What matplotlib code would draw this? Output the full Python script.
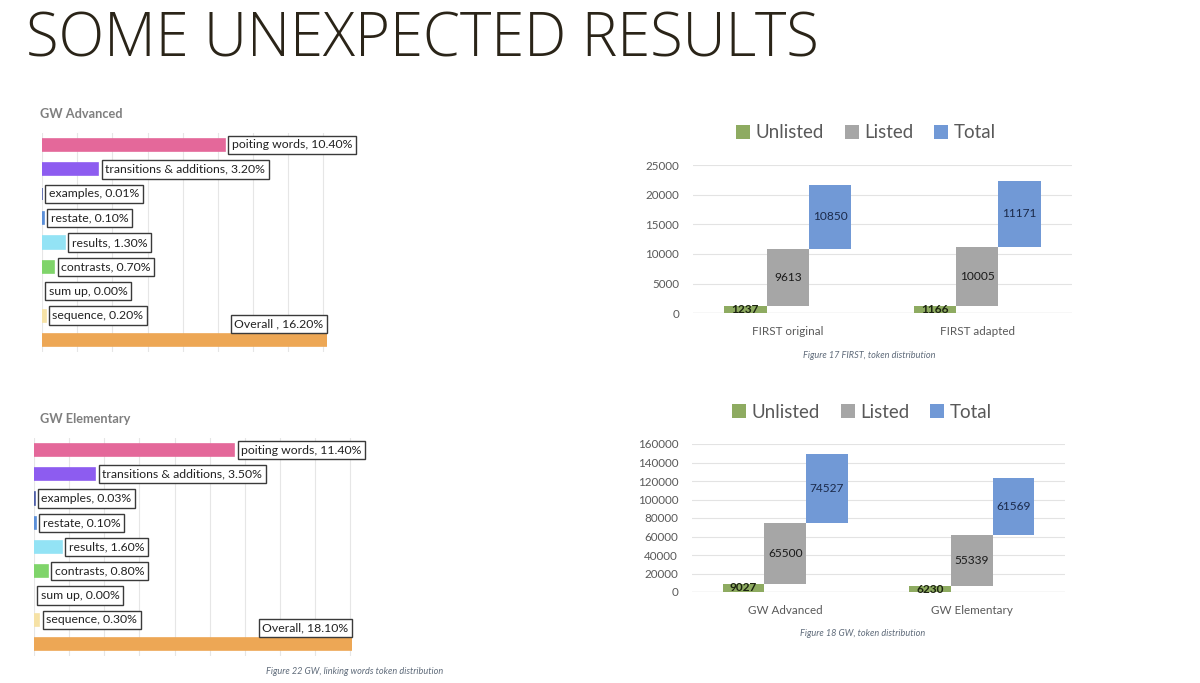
import matplotlib
matplotlib.use("Agg")
import matplotlib.pyplot as plt
import numpy as np
from matplotlib.patches import Patch

plt.rcParams['font.family'] = ['Lato', 'DejaVu Sans']

W, H = 1200, 683

# ---------------- data ----------------
lw_categories = ["poiting words", "transitions & additions", "examples", "restate",
                 "results", "contrasts", "sum up", "sequence", "Overall"]
gw_adv_pct = [10.40, 3.20, 0.01, 0.10, 1.30, 0.70, 0.00, 0.20, 16.20]
gw_elem_pct = [11.40, 3.50, 0.03, 0.10, 1.60, 0.80, 0.00, 0.30, 18.10]
gw_adv_labels = ["poiting words, 10.40%", "transitions & additions, 3.20%", "examples, 0.01%",
                 "restate, 0.10%", "results, 1.30%", "contrasts, 0.70%", "sum up, 0.00%",
                 "sequence, 0.20%", "Overall , 16.20%"]
gw_elem_labels = ["poiting words, 11.40%", "transitions & additions, 3.50%", "examples, 0.03%",
                  "restate, 0.10%", "results, 1.60%", "contrasts, 0.80%", "sum up, 0.00%",
                  "sequence, 0.30%", "Overall, 18.10%"]
lw_colors = ["#e4689a", "#8d5cf0", "#4f5fa8", "#5b8fd8", "#93e3f5", "#7fd46a",
             "none", "#f6e2a6", "#eda755"]

series = ["Unlisted", "Listed", "Total"]
series_colors = ["#8eab61", "#a6a6a6", "#7199d6"]

first_groups = ["FIRST original", "FIRST adapted"]
first_unlisted = [1237, 1166]
first_listed = [9613, 10005]
first_total = [10850, 11171]

gw_groups = ["GW Advanced", "GW Elementary"]
gw_unlisted = [9027, 6230]
gw_listed = [65500, 55339]
gw_total = [74527, 61569]

fig = plt.figure(figsize=(W / 100, H / 100), dpi=100)
fig.patch.set_facecolor("white")


def ax_at(x0, y0, x1, y1):
    return fig.add_axes([x0 / W, 1 - y1 / H, (x1 - x0) / W, (y1 - y0) / H])


# ---------------- title ----------------
fig.text(26 / W, 1 - 41 / H, "SOME UNEXPECTED RESULTS", fontsize=43, color="#2a2418",
         va="center", ha="left", family=["Open Sans", "DejaVu Sans"], fontweight="light")


# ---------------- left charts ----------------
def hbar_chart(ax, vals, labels, xmax, title, title_xy):
    n = len(vals)
    y = np.arange(n)
    ax.barh(y, vals, height=0.5, color=lw_colors, edgecolor=lw_colors, linewidth=1.2, zorder=2)
    ax.set_xlim(0, xmax)
    ax.set_ylim(n - 0.5, -0.5)
    ax.set_xticks(np.arange(0, xmax + 0.001, 2))
    ax.set_yticks([])
    ax.tick_params(axis="x", length=0, labelbottom=False)
    ax.grid(axis="x", color="#e6e6e6", lw=0.8, zorder=0)
    for s in ax.spines.values():
        s.set_visible(False)
    box = dict(boxstyle="square,pad=0.3", fc="white", ec="#3a3a3a", lw=1.0)
    for i, (v, lab) in enumerate(zip(vals, labels)):
        if i == n - 1:
            ax.annotate(lab, (v, i), xytext=(-2.5, 11.5), textcoords="offset points",
                        ha="right", va="center", fontsize=8.8, color="#222222",
                        bbox=box, zorder=5, annotation_clip=False)
        else:
            ax.annotate(lab, (v, i), xytext=(5, 0), textcoords="offset points",
                        ha="left", va="center", fontsize=8.8, color="#222222",
                        bbox=box, zorder=5, annotation_clip=False)
    fig.text(title_xy[0] / W, 1 - title_xy[1] / H, title, fontsize=9.2, fontweight="bold",
             color="#7f7f7f", ha="left", va="center")


ax1 = ax_at(42, 132.8, 327, 352.2)
hbar_chart(ax1, gw_adv_pct, gw_adv_labels, 16.2, "GW Advanced", (40, 114))

ax2 = ax_at(34, 437.9, 352, 656.1)
hbar_chart(ax2, gw_elem_pct, gw_elem_labels, 18.1, "GW Elementary", (40, 419))

fig.text(355 / W, 1 - 672 / H, "Figure 22 GW, linking words token distribution",
         fontsize=6.6, style="italic", color="#5f6b7a", ha="center", va="center")


# ---------------- right charts ----------------
def waterfall(ax, groups, unl, lst, tot, ymax, ystep, legend_xy, caption, cap_xy):
    x = np.arange(len(groups))
    w = 0.224
    vals = [unl, lst, tot]
    bottoms = [np.zeros(len(groups)), np.array(unl, float),
               np.array(unl, float) + np.array(lst, float)]
    text_cols = ["#1c2410", "#1a1a1a", "#1b2a4a"]
    for k in range(3):
        xs = x + (k - 1) * w
        ax.bar(xs, vals[k], width=w, bottom=bottoms[k], color=series_colors[k], zorder=2)
        for xi, b, v in zip(xs, bottoms[k], vals[k]):
            ax.text(xi, b + v / 2, str(v), ha="center", va="center", fontsize=8.6,
                    color=text_cols[k], zorder=3,
                    fontweight="bold" if k == 0 else "normal")
    ax.set_xlim(-0.5, 1.5)
    ax.set_ylim(0, ymax)
    ax.set_yticks(np.arange(0, ymax + 1, ystep))
    ax.set_xticks(x)
    ax.set_xticklabels(groups)
    ax.tick_params(axis="both", length=0, labelsize=8.4, labelcolor="#595959")
    ax.tick_params(axis="y", pad=10)
    ax.tick_params(axis="x", pad=9)
    ax.grid(axis="y", color="#e3e3e3", lw=0.8, zorder=0)
    for s in ax.spines.values():
        s.set_visible(False)
    ax.axhline(0, color="#d4d4d4", lw=0.9, zorder=1)
    handles = [Patch(facecolor=c, edgecolor="none") for c in series_colors]
    fig.legend(handles, series, loc="center", bbox_to_anchor=(legend_xy[0] / W, 1 - legend_xy[1] / H),
               ncol=3, frameon=False, fontsize=13.5, handlelength=0.75, handleheight=0.75,
               handletextpad=0.3, columnspacing=1.1, labelcolor="#595959")
    fig.text(cap_xy[0] / W, 1 - cap_xy[1] / H, caption, fontsize=6.6, style="italic",
             color="#5f6b7a", ha="center", va="center")


ax3 = ax_at(693, 165, 1072, 313.3)
waterfall(ax3, first_groups, first_unlisted, first_listed, first_total, 25000, 5000,
          (866, 133), "Figure 17 FIRST, token distribution", (869, 356))

ax4 = ax_at(692, 444, 1065, 592)
waterfall(ax4, gw_groups, gw_unlisted, gw_listed, gw_total, 160000, 20000,
          (862, 412), "Figure 18 GW, token distribution", (863, 633))

fig.savefig("out.png", dpi=100, facecolor="white")
